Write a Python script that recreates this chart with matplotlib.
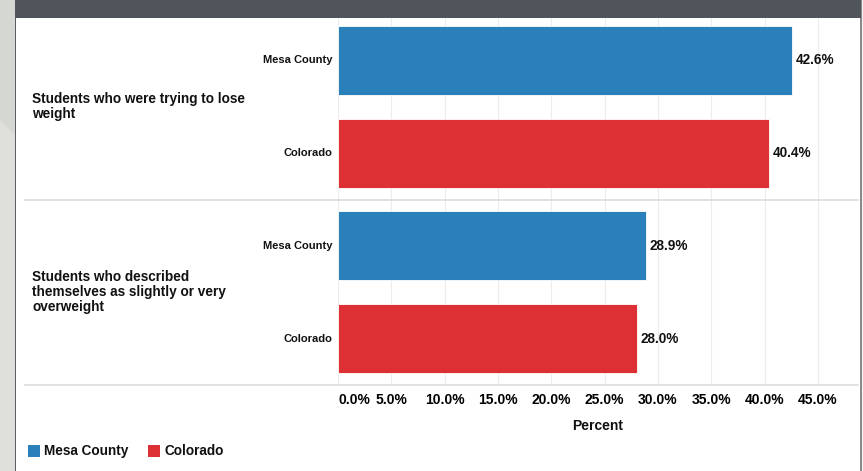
import matplotlib.pyplot as plt
from matplotlib.patches import Rectangle, Polygon
import matplotlib.transforms as mtransforms

# ------------------------------
# Data
# ------------------------------

GROUP_LABELS = [
    "Students who were trying to lose\nweight",
    "Students who described\nthemselves as slightly or very\noverweight",
]
SERIES_NAMES = ["Mesa County", "Colorado"]
MESA_VALUES = [42.6, 28.9]
COLORADO_VALUES = [40.4, 28.0]
X_TICKS = [0, 5, 10, 15, 20, 25, 30, 35, 40, 45]

COLORS = {"Mesa County": "#2980ba", "Colorado": "#dc3034"}

W, H = 863, 471
plt.rcParams["font.family"] = ["Liberation Sans", "DejaVu Sans"]
plt.rcParams["font.weight"] = "bold"

fig = plt.figure(figsize=(W / 100, H / 100), dpi=100)
fig.patch.set_facecolor("#dfe0dc")


def px(x, y):
    # pixel position (from top-left) to figure fraction
    return x / W, 1 - y / H


def add_rect(x, y, w, h, color, z=-1):
    fig.patches.append(Rectangle(px(x, y), w / W, h / H, transform=fig.transFigure,
                                 facecolor=color, edgecolor="none", zorder=z))


# ------------------------------
# Frame decoration
# ------------------------------
fig.patches.append(Polygon([px(0, 0), px(15, 0), px(15, 135), px(0, 120)],
                           closed=True, transform=fig.transFigure,
                           facecolor="#d5d7d2", edgecolor="none", zorder=-1))
add_rect(15, 471, 1, 471, "#5b5d60")
add_rect(16, 471, 844, 471, "white")
add_rect(860, 471, 1.5, 471, "#8a8a8a")
add_rect(862, 471, 1, 471, "#f2f2f2")
add_rect(15, 18, 846, 18, "#50545b", z=3)

# ------------------------------
# Bars
# ------------------------------
left, right, top, bottom = 338, 858, 14, 385
ax = fig.add_axes([left / W, 1 - bottom / H, (right - left) / W, (bottom - top) / H])
ax.set_facecolor("none")
ax.set_zorder(2)

ypos, vals, cols, cat_names = [], [], [], []
for i in range(len(GROUP_LABELS)):
    for j, (name, values) in enumerate(zip(SERIES_NAMES, [MESA_VALUES, COLORADO_VALUES])):
        ypos.append(2 * i + j + 0.5)
        vals.append(values[i])
        cols.append(COLORS[name])
        cat_names.append(name)

ax.barh(ypos, vals, height=0.745, color=cols, edgecolor="#ffffff", linewidth=0.6, zorder=3)
for y, v in zip(ypos, vals):
    ax.text(v + 0.35, y, f"{v:.1f}%", va="center", ha="left", fontsize=9.8,
            fontweight="bold", color="#111111")

ax.set_xlim(0, (right - left) / 53.33 * 5)
ax.set_ylim(4, 0)
ax.set_xticks(X_TICKS)
ax.set_xticklabels([f"{t:.1f}%" for t in X_TICKS], fontsize=10, fontweight="bold")
ax.get_xticklabels()[0].set_horizontalalignment("left")
ax.tick_params(axis="x", length=0, pad=6)
ax.set_yticks([])
ax.grid(axis="x", color="#ececec", linewidth=0.8, zorder=0)
for s in ax.spines.values():
    s.set_visible(False)

# separator lines spanning from the group labels to the right edge
trans = mtransforms.blended_transform_factory(fig.transFigure, ax.transData)
for y in [2, 4]:
    ax.plot([25 / W, 858 / W], [y, y], transform=trans, color="#dcdcdc",
            linewidth=1.2, clip_on=False, zorder=2)

# category labels (series names next to bars)
cat_trans = mtransforms.blended_transform_factory(ax.transAxes, ax.transData)
for y, name in zip(ypos, cat_names):
    ax.text(-6 / (right - left), y, name, transform=cat_trans,
            ha="right", va="center", fontsize=8, fontweight="bold", color="#111111")

# group labels
for i, label in enumerate(GROUP_LABELS):
    ax.text(32 / W, 2 * i + 1, label, transform=trans, ha="left", va="center",
            fontsize=9.8, fontweight="bold", color="#111111", linespacing=1.1)

fig.text((left + right) / 2 / W, 1 - 426 / H, "Percent", ha="center", va="center",
         fontsize=10, fontweight="bold", color="#111111")

# legend
x0 = 28
for name in SERIES_NAMES:
    add_rect(x0, 457, 12, 12, COLORS[name], z=3)
    fig.text((x0 + 16) / W, 1 - 451 / H, name, ha="left", va="center",
             fontsize=9.8, fontweight="bold", color="#111111")
    x0 += 120

fig.savefig("out.png", dpi=100)
